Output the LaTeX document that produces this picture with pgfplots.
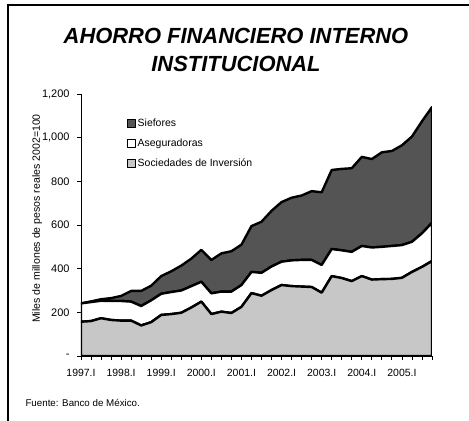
\documentclass[border=0pt]{standalone}
\usepackage{fontspec}
\setmainfont{Liberation Sans}
\usepackage{pgfplots}
\usepackage{pgfplotstable}
\pgfplotsset{compat=1.18}

\definecolor{siefill}{gray}{0.33}
\definecolor{socfill}{gray}{0.78}

% quarters 1997.I (0) ... 2005.IV (35), miles de millones de pesos
\pgfplotstableread{
q v
0 157
1 160
2 173
3 165
4 162
5 162
6 140
7 155
8 188
9 192
10 198
11 222
12 249
13 192
14 203
15 197
16 225
17 288
18 276
19 302
20 325
21 320
22 318
23 316
24 290
25 366
26 357
27 343
28 366
29 350
30 352
31 353
32 358
33 385
34 408
35 435
}\sociedades

\pgfplotstableread{
q v
0 84
1 87
2 80
3 87
4 90
5 87
6 89
7 100
8 97
9 101
10 102
11 98
12 91
13 95
14 92
15 98
16 100
17 97
18 105
19 108
20 107
21 118
22 122
23 124
24 127
25 124
26 127
27 134
28 138
29 147
30 148
31 151
32 150
33 138
34 154
35 175
}\aseguradoras

\pgfplotstableread{
q v
0 0
1 3
2 7
3 13
4 23
5 49
6 69
7 67
8 81
9 95
10 114
11 126
12 146
13 153
14 175
15 185
16 185
17 210
18 234
19 255
20 273
21 287
22 295
23 315
24 333
25 362
26 373
27 383
28 408
29 405
30 433
31 435
32 457
33 482
34 513
35 530
}\siefores

\begin{document}
\begin{tikzpicture}
\useasboundingbox (-81bp,-65bp) rectangle (388bp,356bp);
\draw[line width=1.6bp] (-73bp,-65bp) -- (-73bp,351bp) -- (388bp,351bp);
\node[font=\fontsize{22}{28}\selectfont\bfseries\itshape, align=center]
  at (155bp,306bp) {AHORRO FINANCIERO INTERNO\\INSTITUCIONAL};
\node[anchor=west, font=\fontsize{9.8}{11}\selectfont]
  at (-59bp,-47bp) {Fuente: Banco de México.};
\begin{axis}[
    at={(0,0)}, anchor=south west,
    scale only axis,
    width=351bp, height=262bp,
    xmin=0, xmax=35, ymin=0, ymax=1200,
    axis x line*=bottom, axis y line*=left,
    axis line style={line width=0.8bp},
    stack plots=y,
    tick align=outside,
    major tick length=4bp, minor tick length=4bp,
    tick style={black, line width=0.8bp},
    xtick={0,4,...,32},
    xticklabels={1997.I,1998.I,1999.I,2000.I,2001.I,2002.I,2003.I,2004.I,2005.I},
    minor xtick={0,...,35},
    ytick={0,200,...,1200},
    yticklabels={-,200,400,600,800,{1,000},{1,200}},
    xticklabel style={font=\fontsize{10.5}{12}\selectfont, yshift=-6bp},
    yticklabel style={font=\fontsize{11}{12}\selectfont, xshift=-4bp},
    ylabel={Miles de millones de pesos reales 2002=100},
    every axis y label/.style={at={(axis description cs:-0.125,0.525)}, rotate=90, anchor=center, font=\fontsize{10.6}{12}\selectfont},
    reverse legend,
    legend style={at={(axis cs:4.55,1095)}, anchor=north west, draw=none, fill=none,
        font=\fontsize{10.5}{12}\selectfont, row sep=7bp, cells={anchor=west}, inner sep=0pt},
    legend image code/.code={\draw[#1, line width=0.9bp, draw=black] (0bp,-4bp) rectangle (8bp,4bp);},
    every axis plot/.append style={draw=black, line width=2.4bp, line join=round},
]
\addplot[fill=socfill, draw=black] table[x=q, y=v] {\sociedades} \closedcycle;
\addlegendentry{Sociedades de Inversión}
\addplot[fill=white, draw=black] table[x=q, y=v] {\aseguradoras} \closedcycle;
\addlegendentry{Aseguradoras}
\addplot[fill=siefill, draw=black] table[x=q, y=v] {\siefores} \closedcycle;
\addlegendentry{Siefores}
\end{axis}
\end{tikzpicture}
\end{document}
